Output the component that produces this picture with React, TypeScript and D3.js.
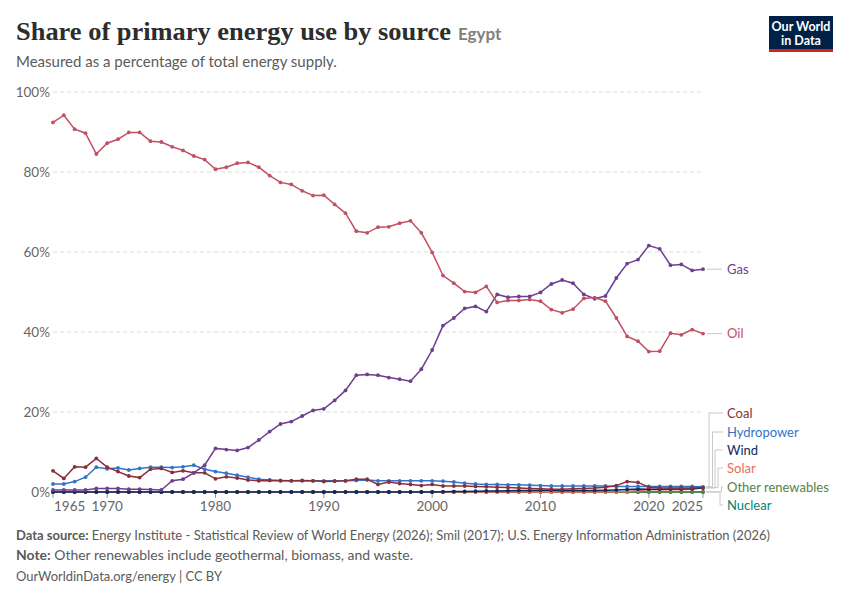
import React from "react";
import * as d3 from "d3";

const years = d3.range(1965, 2026);

const oil = [
  92.4, 94.2, 90.7, 89.7, 84.5, 87.2, 88.2, 89.9, 89.9, 87.7,
  87.5, 86.3, 85.4, 84.0, 83.1, 80.7, 81.2, 82.2, 82.4, 81.2,
  79.1, 77.4, 76.9, 75.3, 74.1, 74.2, 71.9, 69.7, 65.2, 64.8,
  66.2, 66.3, 67.2, 67.8, 64.8, 59.9, 54.1, 52.2, 50.1, 49.9,
  51.4, 47.4, 47.9, 47.9, 48.1, 47.7, 45.6, 44.8, 45.7, 48.4,
  48.6, 47.7, 43.5, 38.9, 37.7, 35.1, 35.2, 39.7, 39.3, 40.6,
  39.6,
];
const gas = [
  0.5, 0.5, 0.5, 0.5, 0.9, 0.9, 0.9, 0.7, 0.7, 0.6,
  0.5, 2.8, 3.2, 4.8, 6.7, 10.9, 10.6, 10.4, 11.1, 13.0,
  15.1, 17.0, 17.6, 19.0, 20.4, 20.8, 22.9, 25.4, 29.2, 29.4,
  29.2, 28.6, 28.2, 27.7, 30.7, 35.5, 41.6, 43.5, 45.9, 46.4,
  45.1, 49.4, 48.7, 48.9, 48.9, 49.9, 52.0, 53.0, 52.2, 49.4,
  48.3, 49.0, 53.5, 57.1, 58.1, 61.6, 60.8, 56.7, 56.9, 55.4,
  55.7,
];
const coal = [
  5.3, 3.4, 6.3, 6.2, 8.4, 6.2, 5.1, 4.0, 3.6, 5.7,
  5.9, 4.9, 5.3, 4.8, 4.8, 3.3, 3.8, 3.5, 3.0, 2.8,
  2.9, 2.8, 2.8, 2.9, 2.8, 2.6, 2.7, 2.8, 3.2, 3.2,
  1.9, 2.5, 2.1, 1.9, 1.6, 1.9, 1.5, 1.5, 1.5, 1.4,
  1.3, 1.2, 1.1, 1.0, 0.9, 0.8, 0.7, 0.7, 0.8, 0.9,
  1.0, 1.2, 1.6, 2.6, 2.4, 1.2, 1.0, 1.0, 1.0, 1.0,
  1.1,
];
const hydropower = [
  2.0, 2.0, 2.6, 3.7, 6.2, 5.8, 6.0, 5.5, 5.9, 6.2,
  6.2, 6.1, 6.3, 6.7, 5.7, 5.1, 4.7, 4.2, 3.7, 3.2,
  3.0, 2.9, 2.8, 2.8, 2.8, 2.8, 2.8, 2.8, 2.9, 3.0,
  2.8, 2.8, 2.8, 2.8, 2.8, 2.8, 2.7, 2.5, 2.2, 2.0,
  1.9, 1.9, 1.8, 1.8, 1.7, 1.6, 1.5, 1.5, 1.5, 1.5,
  1.5, 1.5, 1.4, 1.4, 1.4, 1.4, 1.4, 1.4, 1.4, 1.4,
  1.3,
];
const wind = [
  0, 0, 0, 0, 0, 0, 0, 0, 0, 0,
  0, 0, 0, 0, 0, 0, 0, 0, 0, 0,
  0, 0, 0, 0, 0, 0, 0, 0, 0, 0,
  0, 0, 0, 0, 0, 0, 0.05, 0.1, 0.15, 0.2,
  0.25, 0.25, 0.3, 0.35, 0.4, 0.45, 0.45, 0.4, 0.4, 0.4,
  0.4, 0.45, 0.5, 0.6, 0.75, 0.7, 0.7, 0.75, 0.75, 0.8,
  1.0,
];
const solar = [
  0, 0, 0, 0, 0, 0, 0, 0, 0, 0,
  0, 0, 0, 0, 0, 0, 0, 0, 0, 0,
  0, 0, 0, 0, 0, 0, 0, 0, 0, 0,
  0, 0, 0, 0, 0, 0, 0, 0, 0, 0,
  0, 0, 0, 0, 0, 0, 0, 0, 0, 0.01,
  0.02, 0.03, 0.05, 0.1, 0.4, 0.55, 0.55, 0.55, 0.6, 0.7,
  1.1,
];
const otherRenewables = [
  0, 0, 0, 0, 0, 0, 0, 0, 0, 0,
  0, 0, 0, 0, 0, 0, 0, 0, 0, 0,
  0, 0, 0, 0, 0, 0, 0, 0, 0, 0,
  0, 0, 0, 0, 0, 0, 0, 0, 0, 0,
  0, 0, 0, 0, 0, 0, 0, 0, 0, 0,
  0, 0, 0.02, 0.03, 0.03, 0.03, 0.03, 0.03, 0.03, 0.03,
  0.03,
];
const nuclear = years.map(() => 0);

const xTicks = [1965, 1970, 1980, 1990, 2000, 2010, 2020, 2025];
const yTicks = [0, 20, 40, 60, 80, 100];

// drawn bottom to top
const series = [
  { name: "Nuclear", values: nuclear, color: "#00847e", labelY: 505, bendX: 720 },
  { name: "Other renewables", values: otherRenewables, color: "#578145", labelY: 487, bendX: 721.5 },
  { name: "Solar", values: solar, color: "#e56e5a", labelY: 468, bendX: 718 },
  { name: "Wind", values: wind, color: "#0e2b5c", labelY: 450, bendX: 715 },
  { name: "Hydropower", values: hydropower, color: "#3572c9", labelY: 432, bendX: 712.5 },
  { name: "Coal", values: coal, color: "#883039", labelY: 413, bendX: 709 },
  { name: "Gas", values: gas, color: "#6d3e91", labelY: 269, bendX: 0 },
  { name: "Oil", values: oil, color: "#c15065", labelY: 333, bendX: 0 },
];

const W = 850;
const H = 600;
const x = d3.scaleLinear().domain([1965, 2025]).range([53, 703]);
const y = d3.scaleLinear().domain([0, 100]).range([492, 92]);

const FONT = "Lato, 'Noto Sans', sans-serif";

export default function App() {
  const line = d3
    .line<number>()
    .x((_, i) => x(years[i]))
    .y((d) => y(d));

  return (
    <svg
      width={W}
      height={H}
      style={{ position: "absolute", left: 0, top: 0, background: "#fff" }}
      fontFamily={FONT}
    >
      <rect width={W} height={H} fill="#fff" />

      {/* header */}
      <text x={16} y={40} fontFamily="'Liberation Serif', serif" fontWeight="bold" fontSize={25.5}
        fill="#2d2d2d" textLength={435} lengthAdjust="spacingAndGlyphs">
        Share of primary energy use by source
      </text>
      <text x={458} y={40} fontSize={17} fontWeight="bold" fill="#808080">Egypt</text>
      <text x={16} y={67} fontSize={15} fill="#5b5b5b">
        Measured as a percentage of total energy supply.
      </text>

      {/* logo */}
      <rect x={769} y={16} width={64} height={36} fill="#002147" />
      <rect x={769} y={49} width={64} height={3} fill="#ce261e" />
      <text x={801} y={31} textAnchor="middle" fontSize={12.5} fontWeight="bold" fill="#fff">Our World</text>
      <text x={801} y={45} textAnchor="middle" fontSize={12.5} fontWeight="bold" fill="#fff">in Data</text>

      {/* grid + y axis */}
      {yTicks.map((t) => (
        <g key={t}>
          {t > 0 && (
            <line x1={53} x2={703} y1={y(t)} y2={y(t)} stroke="#dddddd" strokeDasharray="4,3" />
          )}
          <text x={50} y={y(t)} dy="0.35em" textAnchor="end" fontSize={13.5} fill="#666">
            {t}%
          </text>
        </g>
      ))}

      {/* x axis */}
      {xTicks.map((t, i) => {
        const anchor = i === 0 ? "start" : i === xTicks.length - 1 ? "end" : "middle";
        return (
          <g key={t}>
            <line x1={x(t)} x2={x(t)} y1={493} y2={498} stroke="#999" />
            <text x={x(t) + (i === 0 ? 1 : 0)} y={511} textAnchor={anchor} fontSize={13.5} fill="#666">
              {t}
            </text>
          </g>
        );
      })}

      {/* series */}
      {series.map((s) => (
        <g key={s.name}>
          <path d={line(s.values) || ""} fill="none" stroke={s.color} strokeWidth={1.5} />
          {s.values.map((v, i) => (
            <circle key={i} cx={x(years[i])} cy={y(v)} r={1.9} fill={s.color} />
          ))}
        </g>
      ))}

      {/* line labels */}
      {series.map((s) => {
        const yEnd = y(s.values[s.values.length - 1]);
        const path =
          s.bendX > 0
            ? `M706,${yEnd}H${s.bendX}V${s.labelY}H723`
            : `M707,${yEnd}H722`;
        return (
          <g key={s.name + "-label"}>
            <path d={path} fill="none" stroke="#c8c8c8" strokeWidth={1} />
            <text x={727} y={s.labelY} dy="0.35em" fontSize={13} fill={s.color}>
              {s.name}
            </text>
          </g>
        );
      })}

      {/* footer */}
      <text x={16} y={540} fontSize={12.5} fill="#5b5b5b" textLength={754} lengthAdjust="spacingAndGlyphs">
        <tspan fontWeight="bold">Data source:</tspan> Energy Institute - Statistical Review of World Energy (2026); Smil (2017); U.S. Energy Information Administration (2026)
      </text>
      <text x={16} y={560} fontSize={12.5} fill="#5b5b5b" textLength={397} lengthAdjust="spacingAndGlyphs">
        <tspan fontWeight="bold">Note:</tspan> Other renewables include geothermal, biomass, and waste.
      </text>
      <text x={16} y={581} fontSize={12.5} fill="#5b5b5b" textLength={206} lengthAdjust="spacingAndGlyphs">
        OurWorldinData.org/energy | CC BY
      </text>
    </svg>
  );
}
